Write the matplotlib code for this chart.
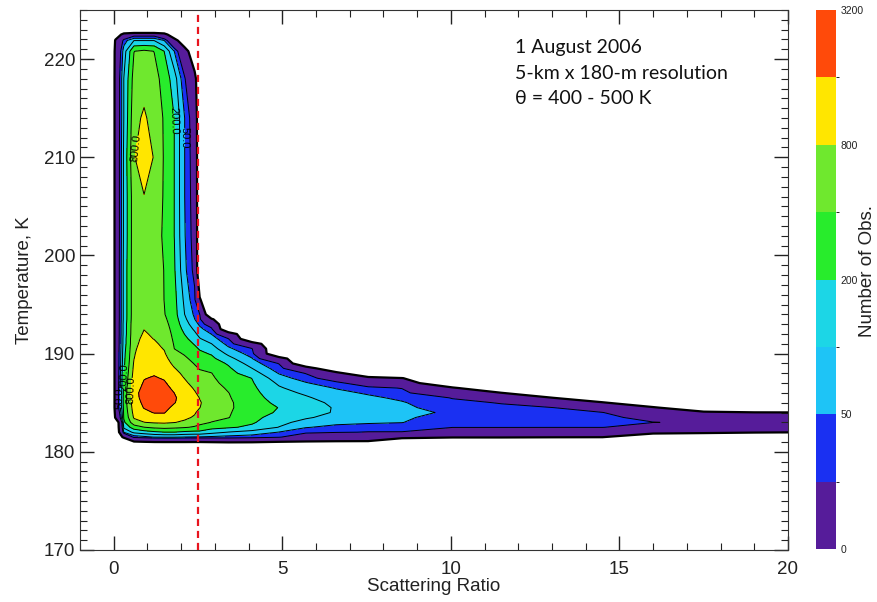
import numpy as np
import matplotlib
matplotlib.use('Agg')
import matplotlib.pyplot as plt
from matplotlib.colors import ListedColormap, BoundaryNorm
from matplotlib.cm import ScalarMappable
from matplotlib.ticker import MultipleLocator

plt.rcParams['font.family'] = ['Liberation Sans', 'DejaVu Sans']

# === grid nodes ===
# scattering ratio nodes (x)
sr_nodes = [-0.02, 0.05, 0.3, 0.6, 0.9, 1.2, 1.5, 1.8, 2.1, 2.4, 2.55,
            2.9, 3.4, 4.1, 4.9, 5.7, 6.6, 7.55, 8.55, 10.05, 11.5, 13.0,
            14.5, 16.0, 17.5, 19.0, 20.2]

# temperature nodes (K): lower part (column foot + tail) and upper column
temp_low = [180.7, 181.1, 181.5, 182.0, 182.5, 183.0, 183.5, 184.0, 184.5,
            185.0, 185.5, 186.0, 186.5, 187.0, 187.5, 188.0, 188.5, 189.0,
            189.5, 190.0, 190.5, 191.0, 191.5, 192.0, 192.5, 193.0, 193.5,
            194.0]
temp_high = [195.5, 198.5, 202.0, 206.0, 210.0, 214.0, 218.0, 220.8, 221.9,
             222.5, 222.85]

# number of observations per node (rows = temperature, cols = sr_nodes,
# trailing empty nodes left out)
obs_low = [
    [0],
    [0, 0, 0, 1.6, 2.2, 2.9, 3.1, 3.1, 3.1, 2.9, 2.9, 3.6, 5.0, 4.3, 2.2, 1.5, 1.2, 1.1],
    [0, 0, 1.9, 35, 42, 51, 54, 54, 49, 47, 47, 44, 40, 36, 28, 8.5, 5.5, 4.2, 3.4, 1.4, 1.4, 1.2, 1.1],
    [0, 0, 54, 119, 149, 178, 198, 198, 178, 168, 168, 130, 98, 77, 49, 32, 27, 24, 24, 6.9, 6.9, 4.3, 5.0, 3.2, 2.0, 1.3, 1.1],
    [0, 0, 115, 283, 395, 459, 492, 459, 423, 373, 348, 251, 220, 172, 98, 52, 42, 39, 37, 26, 26, 26, 26, 11.6, 6.7, 4.8, 3.9],
    [0, 0, 174, 606, 790, 857, 881, 817, 721, 539, 459, 395, 308, 219, 122, 79, 59, 54, 51, 31, 30, 29, 28, 25.5, 22, 18, 15],
    [0, 1.6, 214, 857, 1040, 1213, 1230, 965, 906, 746, 566, 453, 411, 243, 150, 109, 78, 67, 56, 37, 34, 32, 30, 19.3, 6.7, 4.5, 3.9],
    [0, 3.1, 230, 985, 1365, 1656, 1656, 1139, 1006, 851, 673, 510, 426, 271, 184, 134, 93, 84, 61, 45, 34, 30, 26, 5.7, 2.0, 1.15, 1.1],
    [0, 6.3, 246, 1090, 1656, 1970, 1970, 1355, 1124, 912, 810, 578, 435, 303, 196, 143, 93, 77, 57, 37, 29, 26, 8.5, 1.5],
    [0, 6.3, 264, 1170, 1825, 2294, 2263, 1650, 1213, 985, 828, 650, 441, 283, 169, 125, 87, 66, 53, 30, 24, 6.0, 1.4],
    [0, 6.3, 264, 1260, 1997, 2690, 2425, 1715, 1238, 912, 790, 602, 423, 264, 146, 109, 72, 57, 44, 24, 5.0, 1.1],
    [0, 6.3, 246, 1300, 2040, 2510, 2156, 1590, 1116, 840, 711, 558, 406, 246, 127, 90, 60, 46, 33, 6.2, 1.1],
    [0, 6.3, 246, 1210, 1851, 2201, 1930, 1403, 999, 757, 632, 513, 371, 230, 109, 69, 48, 31, 24, 1.5],
    [0, 6.3, 214, 1130, 1690, 1930, 1715, 1230, 893, 663, 558, 476, 325, 214, 89, 53, 32, 13, 5.0],
    [0, 6.3, 214, 1060, 1556, 1690, 1524, 1071, 790, 582, 496, 441, 287, 198, 66, 37, 13, 2.6, 1.1],
    [0, 6.3, 198, 985, 1453, 1514, 1365, 938, 711, 510, 441, 406, 251, 141, 48, 24, 2.6],
    [0, 6.3, 187, 919, 1355, 1384, 1213, 822, 611, 444, 387, 343, 222, 101, 35, 5.0],
    [0, 6.3, 174, 857, 1264, 1264, 1078, 692, 524, 387, 325, 283, 185, 72, 24],
    [0, 6.3, 168, 790, 1179, 1155, 965, 578, 450, 325, 273, 233, 126, 52, 3.8],
    [0, 6.3, 162, 762, 1101, 1049, 857, 479, 376, 273, 230, 188, 86, 37],
    [0, 6.3, 152, 731, 1027, 958, 773, 398, 321, 230, 189, 137, 58, 27],
    [0, 6.3, 141, 696, 958, 875, 706, 376, 273, 190, 141, 101, 40, 5.0],
    [0, 6.3, 141, 682, 893, 790, 645, 353, 235, 149, 106, 71, 27],
    [0, 6.3, 132, 663, 834, 757, 590, 334, 198, 116, 80, 49, 5.5],
    [0, 6.3, 132, 650, 794, 716, 543, 314, 168, 89, 60, 33],
    [0, 6.3, 132, 636, 778, 677, 496, 295, 141, 67, 44, 11],
    [0, 6.3, 123, 619, 762, 641, 453, 277, 119, 51, 31, 1.5],
    [0, 6.3, 123, 606, 746, 606, 414, 260, 101, 44, 26],
]
obs_high = [
    [0, 6.3, 123, 606, 696, 606, 395, 246, 87, 31, 1.3],
    [0, 6.3, 123, 606, 696, 606, 390, 214, 62, 19],
    [0, 6.3, 115, 606, 696, 606, 348, 198, 54, 16.5],
    [0, 6.3, 115, 606, 773, 606, 373, 198, 51, 15.4],
    [0, 6.3, 115, 746, 1493, 746, 373, 198, 51, 14.4],
    [0, 6.3, 101, 650, 887, 606, 373, 198, 51, 12.5],
    [0, 6.3, 101, 528, 606, 528, 303, 141, 29, 3.1],
    [0, 4.4, 71, 395, 459, 395, 198, 49, 6.3],
    [0, 1.6, 35, 98, 98, 98, 49, 4.4],
    [0, 0, 4.4, 15, 15, 15, 4.4],
    [0],
]

# contour levels / colour bar
obs_levels = [1, 25, 50, 100, 200, 400, 800, 1600, 3200]
cbar_bounds = [0, 25, 50, 100, 200, 400, 800, 1600, 3200]
cbar_ticks = [0, 50, 200, 800, 3200]
band_colors = ['#561c9a', '#1a30f2', '#1ec4f6', '#1cd6e6',
               '#28ec2c', '#6fe82e', '#ffe600', '#ff4a0a']

# labelled contours: value -> spots near the line
label_spots = {50: [(2.2, 212.0), (0.12, 185.5)],
               200: [(1.8, 213.7), (0.25, 187.6)],
               800: [(0.63, 211.0), (0.5, 186.3)]}

# === build the field ===
n = len(sr_nodes)
low = np.array([r + [0] * (n - len(r)) for r in obs_low], dtype=float)
high = np.array([r + [0] * (n - len(r)) for r in obs_high], dtype=float)
counts = np.vstack([low, high])
temp = np.array(temp_low + temp_high)
sr = np.array(sr_nodes)

# contour in log space so the doubling levels are spread evenly
logc = np.log2(np.where(counts > 0, counts, 0.05))
lev = np.log2(np.array(obs_levels, dtype=float))

# === figure ===
fig = plt.figure(figsize=(8.77, 6.02), dpi=100)
ax = fig.add_axes([80 / 877, 1 - 550 / 602, 708 / 877, 540 / 602])

ax.contourf(sr, temp, logc, levels=lev, colors=band_colors, zorder=1)

# plain contour lines (labelled levels are drawn separately below)
plain = [lv for lv, v in zip(lev, obs_levels) if v not in label_spots]
widths = [1.6 if lv == lev[0] else 0.7 for lv in plain]
ax.contour(sr, temp, logc, levels=plain, colors='k', linewidths=widths,
           zorder=2)

for v, spots in label_spots.items():
    lv = np.log2(float(v))
    cs = ax.contour(sr, temp, logc, levels=[lv], colors='k',
                    linewidths=0.7, zorder=2)
    ax.clabel(cs, manual=spots, fmt={cs.levels[0]: f'{v:.1f}'},
              fontsize=8, inline=True, inline_spacing=2)

ax.axvline(2.5, color='#e8141e', lw=1.6, ls=(0, (3.2, 2.2)), zorder=5)

ax.set_xlim(-1, 20)
ax.set_ylim(170, 225)
ax.set_xticks([0, 5, 10, 15, 20])
ax.set_yticks([170, 180, 190, 200, 210, 220])
ax.xaxis.set_minor_locator(MultipleLocator(1))
ax.yaxis.set_minor_locator(MultipleLocator(1))
ax.tick_params(which='both', direction='in', top=True, right=True,
               labelsize=13.5, colors='#222222')
ax.tick_params(which='major', length=10, width=1)
ax.tick_params(which='minor', length=5, width=0.8)
ax.tick_params(axis='x', which='major', pad=8)
for s in ax.spines.values():
    s.set_color('#333333')

ax.set_xlabel('Scattering Ratio', fontsize=13.5, labelpad=0, color='#222222')
ax.set_ylabel('Temperature, K', fontsize=13.5, labelpad=8, color='#222222')

fig.text(515 / 877, 1 - 39 / 602,
         '1 August 2006\n5-km x 180-m resolution\nθ = 400 - 500 K',
         ha='left', va='top', fontsize=14, linespacing=1.62,
         family=['Lato', 'DejaVu Sans'], color='#111111')

# colour bar with equal-size bands
cmap = ListedColormap(band_colors)
norm = BoundaryNorm(cbar_bounds, cmap.N)
cax = fig.add_axes([816 / 877, 1 - 549 / 602, 20 / 877, 539 / 602])
cb = fig.colorbar(ScalarMappable(norm=norm, cmap=cmap), cax=cax,
                  ticks=cbar_ticks, spacing='uniform')
cb.outline.set_visible(False)
cax.tick_params(length=0, labelsize=7.5, pad=3, colors='#222222')
fig.text(868 / 877, 0.55, 'Number of Obs.', rotation=90, ha='center',
         va='center', fontsize=13.5, color='#222222')

fig.savefig('out.png', dpi=100)
